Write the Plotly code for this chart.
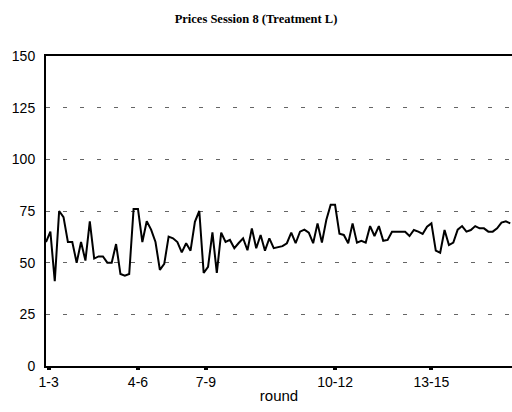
import plotly.graph_objects as go

prices = [60, 65, 41, 75, 72, 60, 60, 50, 60, 51, 70, 52, 53, 53, 50, 50, 59, 44.5, 43.7, 44.5,
          76, 76, 60, 70, 66, 60, 46.5, 49.4, 62.6, 61.8, 60, 55, 59.4, 55.8, 69.8, 75, 45, 48, 64.7, 45,
          64.5, 60, 61, 57, 59.5, 61.8, 56, 66.6, 57, 63.4, 55.8, 61.8, 57, 57.4, 58, 59.4, 64.5, 59.4, 65, 66,
          64.5, 59.4, 69, 59.7, 70.6, 78, 78, 64, 63.4, 59.4, 69, 59.7, 60.6, 59.7, 67.7, 62.9, 67.7, 60.6, 61, 65,
          65, 65, 65, 62.9, 65.8, 65, 63.9, 67.4, 69, 55.8, 54.8, 65.8, 58.5, 59.7, 66, 67.7, 65, 65.8, 67.7, 66.6,
          66.6, 65, 65, 66.6, 69.4, 70, 69]
trades = list(range(1, len(prices) + 1))

tick_pos = [1.6, 22, 37.5, 67, 89]
tick_labels = ["1-3", "4-6", "7-9", "10-12", "13-15"]
y_ticks = [0, 25, 50, 75, 100, 125, 150]

fig = go.Figure()
fig.add_trace(go.Scatter(x=trades, y=prices, mode="lines",
                         line=dict(color="black", width=2), showlegend=False))

fig.update_layout(
    width=512, height=412,
    margin=dict(l=46, r=0, t=56, b=46),
    paper_bgcolor="white", plot_bgcolor="white",
    title=dict(text="<b>Prices Session 8 (Treatment L)</b>", x=0.5, xanchor="center",
               y=0.955, yanchor="middle",
               font=dict(family="Liberation Serif", size=12.5, color="black")),
    font=dict(family="Liberation Sans", size=14, color="black"),
)
fig.update_xaxes(range=[1, 107.4], tickvals=tick_pos, ticktext=tick_labels,
                 showgrid=False, zeroline=False, showline=True, linecolor="black", linewidth=2,
                 mirror=True, ticks="outside", ticklen=2, tickwidth=4, tickcolor="black",
                 title=dict(text="round", font=dict(size=15), standoff=2),
                 tickfont=dict(size=14))
fig.update_yaxes(range=[0, 150], tickvals=y_ticks, showgrid=True, gridcolor="#666666",
                 griddash="4px,13px", gridwidth=1, zeroline=False, showline=True,
                 linecolor="black", linewidth=2, ticks="", ticklabelstandoff=6,
                 tickfont=dict(size=14))

fig.write_html("out.html")
